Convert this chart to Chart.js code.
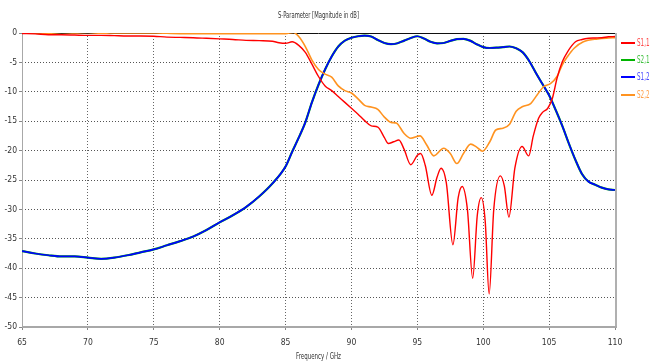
<!DOCTYPE html>
<html>
<head>
<meta charset="utf-8">
<script src="https://cdn.jsdelivr.net/npm/chart.js@4.4.1/dist/chart.umd.min.js"></script>
<style>
html,body{margin:0;padding:0;background:#fff;}
#wrap{width:650px;height:363px;position:relative;}
</style>
</head>
<body>
<div id="wrap"><canvas id="c" width="650" height="363"></canvas></div>
<script>
// ---- data (frequency GHz, magnitude dB) ----
const xTicks = [65, 70, 75, 80, 85, 90, 95, 100, 105, 110];
const yTicks = [0, -5, -10, -15, -20, -25, -30, -35, -40, -45, -50];
const seriesNames = ["S1,1", "S2,1", "S1,2", "S2,2"];

const s11F = [65,66,67,68,69,70,71,72,73,74,75,76,77,78,79,80,81,82,83,84,84.5,85,85.5,86,86.5,87,87.5,88,88.5,89,89.5,90,90.5,91,91.5,92,92.5,92.8,93.2,93.6,94,94.5,95,95.25,95.6,96.1,96.5,96.8,97.2,97.7,98.1,98.4,98.8,99.2,99.55,99.85,100.15,100.45,100.8,101.3,101.6,101.95,102.4,102.95,103.45,103.8,104.2,104.5,104.9,105.25,105.6,106,106.4,107,107.5,108,108.5,109,109.5,110];
const s11 = [-0.1,-0.15,-0.3,-0.3,-0.35,-0.4,-0.4,-0.45,-0.5,-0.5,-0.55,-0.7,-0.75,-0.8,-0.9,-1.0,-1.1,-1.25,-1.3,-1.4,-1.65,-1.75,-1.5,-2.1,-3.3,-5.3,-7.4,-9.0,-9.8,-10.8,-11.8,-12.8,-13.8,-14.9,-15.8,-16.0,-17.8,-18.8,-18.5,-18.2,-19.8,-22.4,-20.8,-20.5,-22.5,-27.6,-24.5,-23.0,-25.5,-36.0,-28.0,-26.1,-30.0,-41.7,-31.0,-28.0,-32.0,-44.4,-30.0,-24.3,-26.0,-31.3,-23.0,-19.3,-20.9,-17.5,-14.5,-13.5,-12.8,-11.1,-7.7,-4.9,-3.2,-1.5,-1.1,-0.9,-0.85,-0.8,-0.65,-0.6];

const s12F = [65,66,67,68,69,70,71,72,73,74,75,76,77,78,79,80,81,82,83,84,85,85.5,86,86.5,87,87.5,88,88.5,89,89.5,90,90.5,91,91.5,92,92.5,93,93.5,94,94.5,95,95.5,96,96.5,97,97.5,98,98.5,99,99.5,100,100.5,101,101.5,102,102.5,103,103.5,104,104.5,105,105.5,106,106.5,107,107.5,108,108.5,109,109.5,110];
const s12 = [-37.1,-37.5,-37.8,-38.0,-38.0,-38.2,-38.4,-38.2,-37.8,-37.3,-36.8,-36.1,-35.4,-34.6,-33.5,-32.2,-31.0,-29.6,-27.8,-25.6,-22.7,-20.2,-17.8,-15.2,-11.8,-8.8,-6.2,-4.0,-2.3,-1.3,-0.8,-0.55,-0.45,-0.6,-1.2,-1.7,-1.9,-1.75,-1.3,-0.85,-0.55,-0.95,-1.5,-1.75,-1.7,-1.35,-1.05,-1.0,-1.3,-1.9,-2.4,-2.55,-2.5,-2.4,-2.3,-2.6,-3.3,-4.8,-6.8,-8.7,-10.6,-13.1,-15.8,-18.8,-21.6,-24.0,-25.3,-25.8,-26.3,-26.6,-26.7];

const s21F = s12F;
const s21 = [-37.1,-37.5,-37.8,-38.0,-38.0,-38.2,-38.4,-38.2,-37.8,-37.3,-36.8,-36.1,-35.4,-34.6,-33.5,-32.2,-31.0,-29.6,-27.8,-25.6,-22.7,-20.2,-17.8,-15.2,-11.8,-8.8,-6.2,-4.0,-2.3,-1.3,-0.8,-0.55,-0.45,-0.6,-1.2,-1.7,-1.9,-1.75,-1.3,-0.85,-0.55,-0.95,-1.5,-1.75,-1.7,-1.35,-1.05,-1.0,-1.3,-1.9,-2.4,-2.55,-2.5,-2.4,-2.3,-2.6,-3.3,-4.8,-6.8,-8.7,-10.6,-13.1,-15.8,-18.8,-21.6,-24.0,-25.3,-25.8,-26.3,-26.6,-26.7];

const s22F = [65,66,67,68,69,70,71,72,73,74,75,76,77,78,79,80,81,82,83,84,85,85.6,86,86.5,87,87.5,88,88.5,89,89.5,90,90.5,91,91.5,92,92.5,93,93.4,94,94.5,95.2,95.7,96.25,97,97.5,98,98.5,99.05,99.5,99.95,100.5,100.95,101.5,102,102.5,103,103.6,104.1,104.6,105.1,105.6,106,106.4,106.9,107.6,108.7,109.5,110];
const s22 = [-0.05,0.05,-0.05,0.1,0.0,0.1,-0.05,0.05,0.0,0.05,0.05,-0.05,-0.1,-0.1,-0.1,-0.1,-0.1,-0.1,-0.1,-0.1,-0.1,0.1,-0.6,-2.3,-4.6,-6.2,-7.0,-7.5,-9.0,-9.8,-10.2,-11.2,-12.3,-12.6,-13.0,-14.3,-15.2,-15.3,-17.1,-17.9,-17.5,-19.0,-20.9,-19.6,-20.5,-22.2,-20.5,-18.9,-19.4,-20.1,-18.5,-16.5,-16.2,-15.5,-13.3,-12.5,-12.0,-10.5,-9.1,-8.6,-7.4,-5.4,-4.0,-2.6,-1.5,-1.0,-0.85,-0.8];

const titleText = "S-Parameter [Magnitude in dB]";
const xTitle = "Frequency / GHz";

// ---- build ----
function pts(xs, ys){ return xs.map((x,i)=>({x:x, y:ys[i]})); }
const lineColors = ["#ff0000", "#00b400", "#0000ff", "#ff9320"];
const textColors = ["#ff4a4a", "#40c040", "#4a4aff", "#ffa04a"];
const FONT = '"Liberation Sans Narrow","DejaVu Sans Condensed","Liberation Sans",sans-serif';

// draw text squeezed horizontally to a target width
function fitText(ctx, txt, x, y, targetW, align){
  const w = ctx.measureText(txt).width;
  const sx = Math.min(1, targetW / w);
  ctx.save();
  let left = x;
  if (align === 'center') left = x - targetW/2;
  ctx.translate(left, y);
  ctx.scale(sx, 1);
  ctx.textAlign = 'left';
  ctx.fillText(txt, 0, 0);
  ctx.restore();
}

const decor = {
  id: 'decor',
  beforeDatasetsDraw(chart){
    const {ctx, chartArea:a} = chart;
    ctx.save();
    ctx.strokeStyle = '#111'; ctx.lineWidth = 1;
    ctx.beginPath(); ctx.moveTo(a.left, a.top+0.5); ctx.lineTo(a.right, a.top+0.5); ctx.stroke();
    ctx.strokeStyle = '#b0b0b0'; ctx.lineWidth = 2;
    ctx.beginPath(); ctx.moveTo(a.right+1, a.top); ctx.lineTo(a.right+1, a.bottom+1); ctx.stroke();
    ctx.strokeStyle = '#a8a8a8'; ctx.lineWidth = 2;
    ctx.beginPath(); ctx.moveTo(a.left, a.bottom); ctx.lineTo(a.right+2, a.bottom); ctx.stroke();
    ctx.lineWidth = 1;
    ctx.beginPath(); ctx.moveTo(a.left+0.5, a.top); ctx.lineTo(a.left+0.5, a.bottom); ctx.stroke();
    ctx.restore();
  },
  afterDraw(chart){
    const {ctx, chartArea:a} = chart;
    ctx.save();
    ctx.fillStyle = '#333';
    ctx.font = '9px ' + FONT;
    ctx.textBaseline = 'middle';
    fitText(ctx, titleText, (a.left + a.right)/2, 16, 81, 'center');
    fitText(ctx, xTitle, (a.left + a.right)/2, 357, 45, 'center');
    // legend
    const ys = [43, 60, 77, 95];
    ctx.font = '10px ' + FONT;
    seriesNames.forEach((n,i)=>{
      ctx.strokeStyle = lineColors[i]; ctx.lineWidth = 2;
      ctx.beginPath(); ctx.moveTo(621, ys[i]); ctx.lineTo(635, ys[i]); ctx.stroke();
      ctx.fillStyle = textColors[i];
      fitText(ctx, n, 637, ys[i], 12.5, 'left');
    });
    ctx.restore();
  }
};

const ds = (label, data, color, width) => ({
  label, data, borderColor: color, backgroundColor: color, borderWidth: width,
  showLine: true, pointRadius: 0, pointHoverRadius: 0, fill: false,
  cubicInterpolationMode: 'monotone'
});

new Chart(document.getElementById('c'), {
  type: 'scatter',
  data: {
    // first dataset is drawn on top
    datasets: [
      ds(seriesNames[0], pts(s11F, s11), lineColors[0], 1.4),
      ds(seriesNames[3], pts(s22F, s22), lineColors[3], 1.6),
      ds(seriesNames[2], pts(s12F, s12), lineColors[2], 1.7),
      ds(seriesNames[1], pts(s21F, s21), lineColors[1], 2.2)
    ]
  },
  options: {
    responsive: false,
    animation: false,
    events: [],
    layout: { padding: { top: 33, right: 35, left: 0, bottom: 0 } },
    plugins: { legend: { display: false }, title: { display: false }, tooltip: { enabled: false } },
    scales: {
      x: {
        type: 'linear', min: 65, max: 110,
        afterBuildTicks: s => { s.ticks = xTicks.map(v=>({value:v})); },
        afterFit: s => { s.height = 36; },
        grid: { color: '#666', lineWidth: 1, tickLength: 3, tickColor: '#888', drawTicks: true },
        border: { display: false, dash: [1, 2] },
        ticks: { color: '#333', font: { family: FONT, size: 8.5 }, padding: 8, maxRotation: 0 }
      },
      y: {
        type: 'linear', min: -50, max: 0,
        afterBuildTicks: s => { s.ticks = yTicks.map(v=>({value:v})); },
        afterFit: s => { s.width = 22; },
        grid: { color: '#555', lineWidth: 1, tickLength: 3, tickColor: '#888' },
        border: { display: false, dash: [1, 2] },
        ticks: { color: '#333', font: { family: FONT, size: 8.5 }, padding: 2 }
      }
    }
  },
  plugins: [decor]
});
</script>
</body>
</html>
